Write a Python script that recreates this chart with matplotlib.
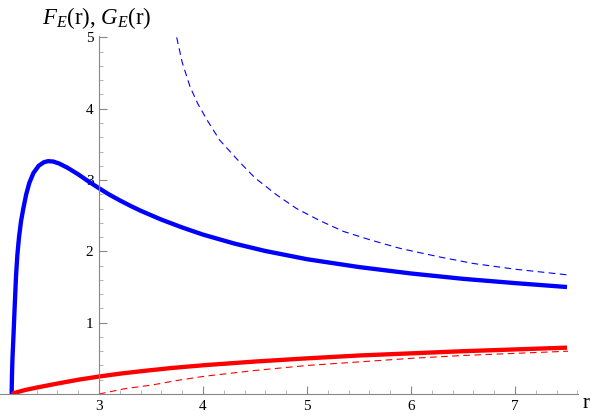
import matplotlib
matplotlib.use("Agg")
from matplotlib import pyplot as plt
from matplotlib.ticker import MultipleLocator

# values
r_F = [2.16, 2.163, 2.168, 2.176, 2.19, 2.202, 2.215, 2.231, 2.25, 2.272, 2.30, 2.33,
       2.37, 2.42, 2.47, 2.51, 2.56, 2.62, 2.70, 2.80, 2.90, 3.0, 3.1, 3.2, 3.3, 3.4,
       3.6, 3.8, 4.0, 4.3, 4.6, 5.0, 5.5, 6.0, 6.5, 7.0, 7.5]
F_E = [0.0, 0.25, 0.5, 0.76, 1.25, 1.65, 1.95, 2.2, 2.42, 2.6, 2.8, 2.96,
       3.1, 3.2, 3.25, 3.265, 3.26, 3.23, 3.17, 3.08, 2.98, 2.885, 2.795, 2.715,
       2.64, 2.57, 2.445, 2.335, 2.235, 2.11, 2.005, 1.89, 1.78, 1.69, 1.615,
       1.555, 1.50]

r_Fa = [3.747, 3.80, 3.875, 3.95, 4.04, 4.16, 4.36, 4.5, 4.71, 4.9, 5.125, 5.35,
        5.61, 5.9, 6.28, 6.6, 7.0, 7.51]
F_Ea = [5.0, 4.65, 4.31, 4.07, 3.84, 3.56, 3.24, 3.03, 2.79, 2.6, 2.43, 2.28,
        2.16, 2.04, 1.92, 1.83, 1.75, 1.67]

r_G = [2.16, 2.2, 2.29, 2.4, 2.577, 2.8, 3.0, 3.2, 3.44, 3.7, 4.02, 4.5, 5.0,
       5.5, 6.0, 6.5, 7.0, 7.5]
G_E = [0.0, 0.02, 0.056, 0.09, 0.14, 0.2, 0.245, 0.285, 0.325, 0.365, 0.405, 0.455,
       0.50, 0.54, 0.57, 0.60, 0.625, 0.65]

r_Ga = [3.0, 3.1, 3.25, 3.51, 3.75, 4.02, 4.5, 5.0, 5.5, 6.0, 6.5, 7.0, 7.51]
G_Ea = [0.0, 0.03, 0.075, 0.126, 0.19, 0.25, 0.33, 0.40, 0.45, 0.50, 0.54, 0.57, 0.60]

plt.rcParams['font.family'] = ['Liberation Serif', 'DejaVu Serif']
plt.rcParams['mathtext.fontset'] = 'custom'
plt.rcParams['mathtext.rm'] = 'Liberation Serif'
plt.rcParams['mathtext.it'] = 'Liberation Serif:italic'

fig = plt.figure(figsize=(6, 4.17), dpi=100)
# x: 3 -> px 99, 104 px/unit ; y: 0 -> px 394 from top, 71.3 px/unit
x0, x1 = 3 - 99 / 104, 3 + (578 - 99) / 104
y0, y1 = 0, 5.02
ax = fig.add_axes([0, 23 / 417, 578 / 600, (394 - 36) / 417])
ax.set_xlim(x0, x1)
ax.set_ylim(y0, y1)

ax.plot(r_F, F_E, color=(0, 0, 1), lw=3.1, solid_capstyle='butt')
ax.plot(r_Fa, F_Ea, color=(0, 0, 1), lw=0.8, dashes=(6, 4))
ax.plot(r_G, G_E, color=(1, 0, 0), lw=3.1, solid_capstyle='butt')
ax.plot(r_Ga, G_Ea, color=(1, 0, 0), lw=0.8, dashes=(6, 4))

for s in ['top', 'right']:
    ax.spines[s].set_visible(False)
ax.spines['left'].set_position(('data', 3))
ax.spines['bottom'].set_position(('data', 0))
for s in ['left', 'bottom']:
    ax.spines[s].set_color('#888888')
    ax.spines[s].set_linewidth(0.8)

ax.xaxis.set_minor_locator(MultipleLocator(0.2))
ax.yaxis.set_minor_locator(MultipleLocator(0.2))
ax.set_xticks([3, 4, 5, 6, 7])
ax.set_yticks([1, 2, 3, 4, 5])
ax.tick_params(which='major', direction='in', length=5.5, width=0.8, color='#888888',
               labelsize=11, pad=4)
ax.tick_params(which='minor', direction='in', length=3, width=0.6, color='#aaaaaa')

ax.text(583, 417 - 404, 'r', transform=None, fontsize=15, va='center', ha='left')
fig.text(42 / 600, 1 - 18 / 417, r'$F_E$(r), $G_E$(r)', fontsize=16.5,
         va='center', ha='left')

fig.savefig('out.png', dpi=100)
